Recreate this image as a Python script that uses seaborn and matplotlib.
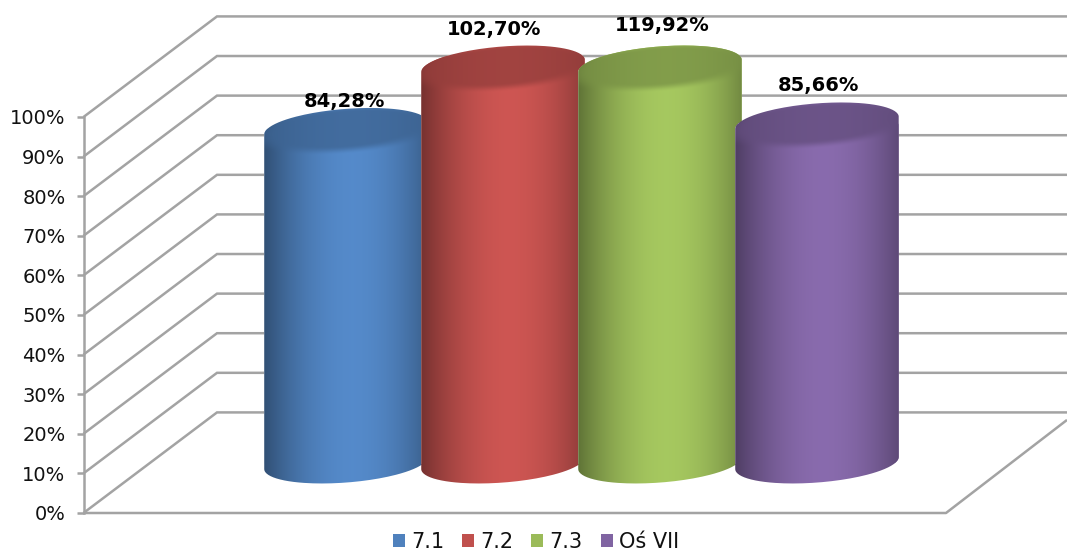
import numpy as np
import seaborn as sns
import matplotlib.pyplot as plt
from matplotlib.path import Path
from matplotlib.patches import PathPatch, Patch
from matplotlib.colors import to_rgb

categories = ['7.1', '7.2', '7.3', 'Oś VII']
values = [84.28, 102.70, 119.92, 85.66]
colors = ['#4F81BD', '#C0504D', '#9BBB59', '#8064A2']
axis_ticks = [0, 10, 20, 30, 40, 50, 60, 70, 80, 90, 100]

W, H = 1067, 550
GREY = '#A3A3A3'

sns.set_style('white')
plt.rcParams['font.family'] = ['DejaVu Sans']

fig = plt.figure(figsize=(W / 100, H / 100), dpi=100)


def px_axes(x0, x1, y_top, y_bottom):
    return fig.add_axes([x0 / W, 1 - y_bottom / H, (x1 - x0) / W, (y_bottom - y_top) / H])


# walls and value axis, x is in pixels here
wall = px_axes(83.5, W, 117, 513)
wall.set_facecolor('none')
wall.set_xlim(83.5, W)
wall.set_ylim(0, 100)
sns.despine(ax=wall, right=True, top=True, bottom=True)
wall.spines['left'].set_color(GREY)
wall.spines['left'].set_linewidth(1.8)
wall.set_xticks([])
wall.set_yticks(axis_ticks)
wall.set_yticklabels([str(t) + '%' for t in axis_ticks], fontsize=14, color='#111111')
wall.tick_params(axis='y', left=True, length=5, width=1.8, color=GREY, pad=8)

back_shift = 25.4
for t in axis_ticks:
    # slanted side wall, then back wall
    wall.plot([83.5, 217, W], [t, t + back_shift, t + back_shift], color=GREY, lw=1.8, clip_on=False,
              solid_joinstyle='miter', solid_capstyle='butt')
wall.plot([83.5, 946, W], [0, 0, 23.5], color=GREY, lw=1.8, clip_on=False, solid_capstyle='butt')

# cylinders
ax = px_axes(267.5, 895.5, 66, 463)
ax.set_facecolor('none')
sns.barplot(x=categories, y=values, hue=categories, palette=colors, width=1.045,
            saturation=1, legend=False, ax=ax)
ax.set_xlim(-0.5, 3.5)
ax.set_ylim(0, 100)
ax.axis('off')

px_x = 157.0
px_y = 3.97
a, b = 82.0, 19.5
phi = np.radians(4.5)
label_dx = [-2, -9, 2, 1]
label_dy = [27, 37, 41, 37]


def ellipse_pts(t):
    x = a * np.cos(t) * np.cos(phi) - b * np.sin(t) * np.sin(phi)
    y = a * np.cos(t) * np.sin(phi) + b * np.sin(t) * np.cos(phi)
    return x, y


t_right = np.arctan2(-b * np.sin(phi), a * np.cos(phi))

for i, bar in enumerate(ax.patches):
    cx = bar.get_x() + bar.get_width() / 2
    top = min(bar.get_height(), 100)

    # outline: lower half of the base, then upper half of the top
    xb, yb = ellipse_pts(np.linspace(t_right + np.pi, t_right + 2 * np.pi, 80))
    xt, yt = ellipse_pts(np.linspace(t_right, t_right + np.pi, 80))
    xs = np.r_[cx + xb / px_x, cx + xt / px_x]
    ys = np.r_[yb / px_y, top + yt / px_y]
    outline = PathPatch(Path(np.c_[xs, ys]), transform=ax.transData, facecolor='none', edgecolor='none')
    ax.add_patch(outline)
    bar.set_clip_path(outline)
    bar.set_clip_box(fig.bbox)
    bar.set_zorder(3 + 2 * i)

    # shading, one cell per pixel
    gx = np.arange(-86, 87)
    gy = np.arange(-26, top * px_y + 26)
    dx, dy = np.meshgrid(gx, gy)
    u = np.clip(dx / 82.0, -1, 1)
    light = 1 - np.abs(u - 0.08) ** 1.9
    base = np.array(to_rgb(colors[i]))
    body = base[None, None, :] * (0.68 + 0.39 * light)[:, :, None]

    qx = dx
    qy = dy - top * px_y
    p = qx * np.cos(phi) + qy * np.sin(phi)
    q = -qx * np.sin(phi) + qy * np.cos(phi)
    r = np.sqrt((p / a) ** 2 + (q / b) ** 2)
    mix = np.clip((r - 0.85) / (1.3 - 0.85), 0, 1)
    mix = mix * mix * (3 - 2 * mix)
    face = base[None, None, :] * (0.76 + 0.08 * light)[:, :, None]
    img = np.clip(face * (1 - mix[:, :, None]) + body * mix[:, :, None], 0, 1)

    im = ax.imshow(img, origin='lower', aspect='auto', interpolation='bilinear', zorder=4 + 2 * i,
                   extent=[cx + gx[0] / px_x, cx + gx[-1] / px_x, gy[0] / px_y, gy[-1] / px_y])
    im.set_clip_path(outline)
    im.set_clip_box(fig.bbox)

    ax.annotate(f'{values[i]:.2f}%'.replace('.', ','), xy=(cx, top), xytext=(label_dx[i], label_dy[i]),
                textcoords='offset pixels', ha='center', va='center', fontsize=14, fontweight='bold',
                color='black', zorder=30, annotation_clip=False)

ax.set_xlim(-0.5, 3.5)
ax.set_ylim(0, 100)

handles = [Patch(facecolor=c, edgecolor='none', label=n) for c, n in zip(colors, categories)]
fig.legend(handles=handles, loc='center', bbox_to_anchor=(536 / W, 1 - 542 / H), ncol=4, frameon=False,
           fontsize=15, handlelength=0.58, handleheight=0.58, handletextpad=0.3, columnspacing=0.85,
           borderpad=0, labelcolor='#111111')

fig.savefig('out.png', dpi=100)
